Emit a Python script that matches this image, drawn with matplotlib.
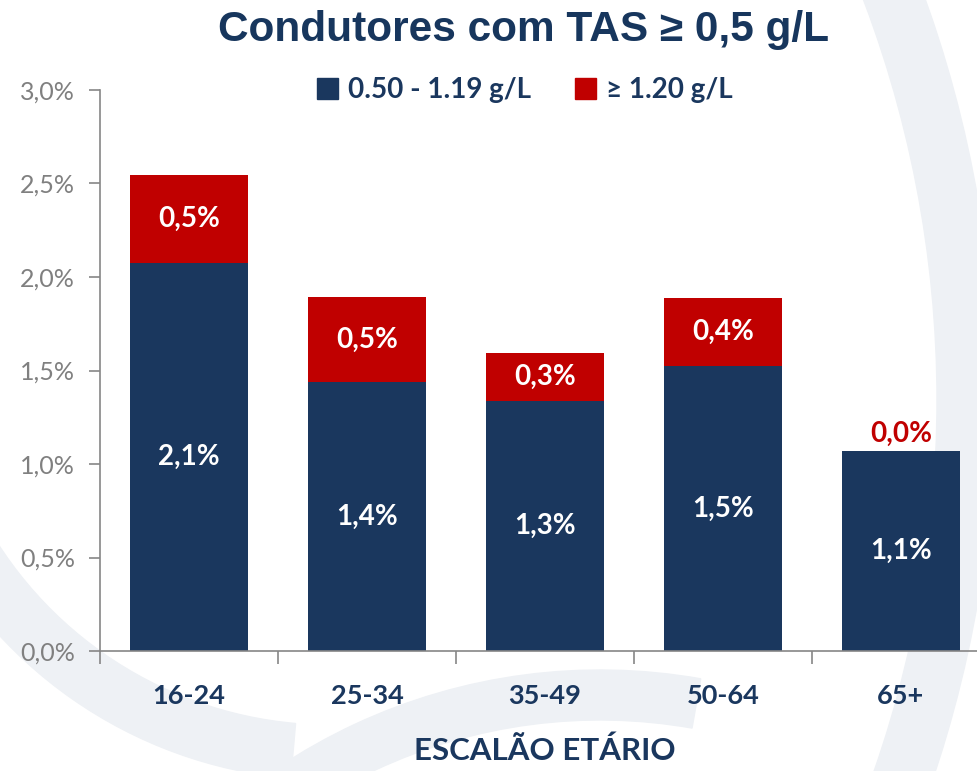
import matplotlib
matplotlib.use("Agg")
import matplotlib.pyplot as plt
from matplotlib.patches import Wedge, Patch

# dados (em %)
escaloes = ["16-24", "25-34", "35-49", "50-64", "65+"]
taxa_050_119 = [2.075, 1.439, 1.337, 1.524, 1.07]
taxa_120 = [0.47, 0.454, 0.257, 0.364, 0.0]
y_ticks = [0.0, 0.5, 1.0, 1.5, 2.0, 2.5, 3.0]

AZUL = "#1a375e"
VERMELHO = "#c00000"
CINZA = "#868686"
FONTE = ["Lato", "DejaVu Sans"]


def pct(v):
    return f"{v:.1f}%".replace(".", ",")


fig = plt.figure(figsize=(9.77, 7.71), dpi=100)

# marca d'agua de fundo (arcos claros)
bg = fig.add_axes([0, 0, 1, 1], zorder=0)
bg.set_xlim(0, 977)
bg.set_ylim(771, 0)
bg.axis("off")
cor_fundo = "#eef1f5"
bg.add_patch(Wedge((-190, 400), 1185, -22, 22, width=58, color=cor_fundo))
bg.add_patch(Wedge((330, 330), 450, 95, 155, width=55, color=cor_fundo))
bg.add_patch(Wedge((600, 1250), 580, -150, -80, width=50, color=cor_fundo))

ax = fig.add_axes([0.1024, 0.1556, 0.9109, 0.7277], zorder=1)
ax.patch.set_alpha(0)

x = list(range(len(escaloes)))
ax.bar(x, taxa_050_119, width=0.66, color=AZUL)
ax.bar(x, taxa_120, width=0.66, bottom=taxa_050_119, color=VERMELHO)

for i in x:
    ax.text(i, taxa_050_119[i] / 2, pct(taxa_050_119[i]), ha="center", va="center",
            color="white", fontsize=20, fontweight="bold", family=FONTE)
    if taxa_120[i] > 0:
        ax.text(i, taxa_050_119[i] + taxa_120[i] / 2, pct(taxa_120[i]),
                ha="center", va="center", color="white", fontsize=20,
                fontweight="bold", family=FONTE)
    else:
        ax.text(i, taxa_050_119[i] + 0.02, pct(taxa_120[i]), ha="center",
                va="bottom", color=VERMELHO, fontsize=20, fontweight="bold",
                family=FONTE)

ax.set_xlim(-0.5, len(escaloes) - 0.5)
ax.set_ylim(0, 3.0)
ax.set_yticks(y_ticks)
ax.set_yticklabels([pct(v) for v in y_ticks], color="#808080", fontsize=18,
                   family=FONTE)
ax.set_xticks(x)
ax.set_xticklabels(escaloes, color=AZUL, fontsize=19.5, fontweight="bold",
                   family=FONTE)
ax.set_xticks([i - 0.5 for i in range(len(escaloes) + 1)], minor=True)
ax.tick_params(axis="x", which="major", length=0, pad=24)
ax.tick_params(axis="x", which="minor", length=9, color=CINZA, width=1.2)
ax.tick_params(axis="y", length=8, color=CINZA, width=1.2, pad=10)

for lado in ["top", "right"]:
    ax.spines[lado].set_visible(False)
for lado in ["left", "bottom"]:
    ax.spines[lado].set_color(CINZA)
    ax.spines[lado].set_linewidth(1.2)

ax.set_xlabel("ESCALÃO ETÁRIO", color=AZUL, fontsize=22.5, fontweight="bold",
              family=FONTE, labelpad=20)

fig.text(0.536, 0.961, "Condutores com TAS \u2265 0,5 g/L", ha="center",
         va="center", fontsize=30.5, fontweight="bold", color="#17365d",
         family=["Liberation Sans", "DejaVu Sans"])

leg = fig.legend(handles=[Patch(color=AZUL), Patch(color=VERMELHO)],
                 labels=["0.50 - 1.19 g/L", "\u2265 1.20 g/L"],
                 loc="center", bbox_to_anchor=(0.537, 0.883), ncol=2,
                 frameon=False, handlelength=0.75, handleheight=0.75,
                 handletextpad=0.35, columnspacing=1.6,
                 prop={"family": FONTE, "weight": "bold", "size": 20})
for t in leg.get_texts():
    t.set_color(AZUL)

fig.savefig("out.png", dpi=100)
